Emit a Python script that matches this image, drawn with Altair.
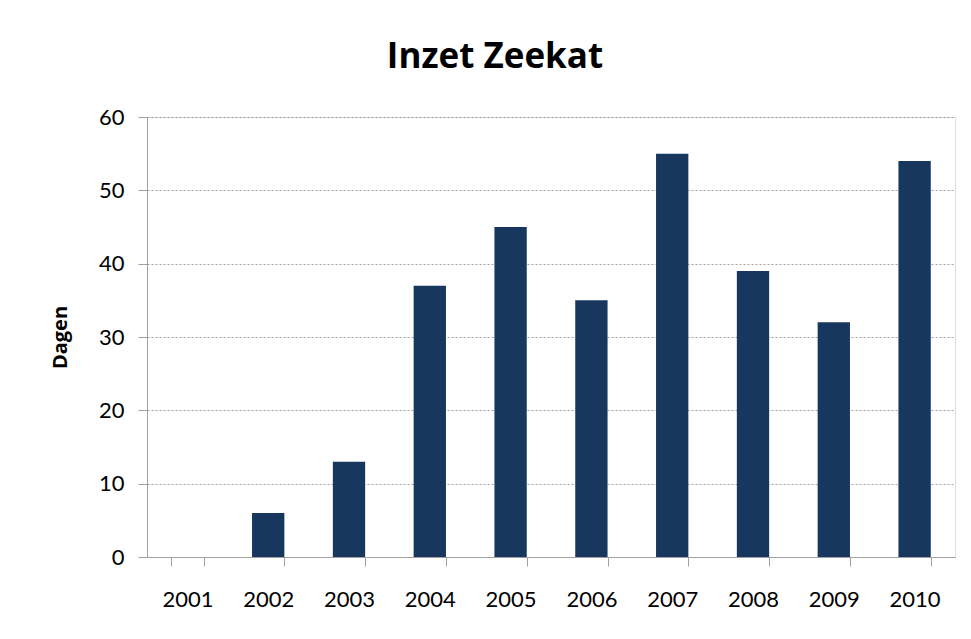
import altair as alt
import pandas as pd

years = ["2001", "2002", "2003", "2004", "2005", "2006", "2007", "2008", "2009", "2010"]
dagen = [0, 6, 13, 37, 45, 35, 55, 39, 32, 54]
y_ticks = [0, 10, 20, 30, 40, 50, 60]

df = pd.DataFrame({"Jaar": years, "Dagen": dagen})

FONT = "Lato"
BOLD_FONT = "Open Sans"
GREY = "#a0a0a0"

chart = (
    alt.Chart(df)
    .mark_bar(color="#17375E")
    .encode(
        x=alt.X(
            "Jaar:N",
            sort=years,
            title=None,
            scale=alt.Scale(paddingInner=0.6, paddingOuter=0.3),
            axis=alt.Axis(
                labelAngle=0,
                tickBand="extent",
                tickSize=9,
                tickColor=GREY,
                domainColor=GREY,
                labelPadding=23,
                labelFontSize=22,
                labelFont=FONT,
                labelColor="#000000",
                grid=False,
            ),
        ),
        y=alt.Y(
            "Dagen:Q",
            title="Dagen",
            scale=alt.Scale(domain=[0, 60], nice=False),
            axis=alt.Axis(
                values=y_ticks,
                tickSize=9,
                tickColor=GREY,
                domainColor=GREY,
                labelPadding=14,
                labelFontSize=22,
                labelFont=FONT,
                labelColor="#000000",
                gridColor=GREY,
                gridDash=[2, 2],
                gridWidth=1,
                titleFont=BOLD_FONT,
                titleFontSize=20,
                titleFontWeight="bold",
                titleColor="#000000",
                titleAngle=270,
                titleX=-87,
                titleY=220,
                titleAlign="center",
                titleBaseline="middle",
            ),
        ),
    )
    .properties(
        width=808,
        height=440,
        title=alt.TitleParams(
            "Inzet Zeekat",
            font=BOLD_FONT,
            fontSize=35,
            fontWeight="bold",
            color="#000000",
            anchor="middle",
            frame="group",
            dx=-56,
            offset=31,
        ),
        autosize=alt.AutoSizeParams(type="none"),
        padding={"left": 139, "top": 109, "right": 4, "bottom": 60},
    )
    .configure_view(stroke=GREY, strokeWidth=1)
    .configure(background="white")
)

chart.save("out.html", embed_options={"renderer": "svg", "actions": False})
